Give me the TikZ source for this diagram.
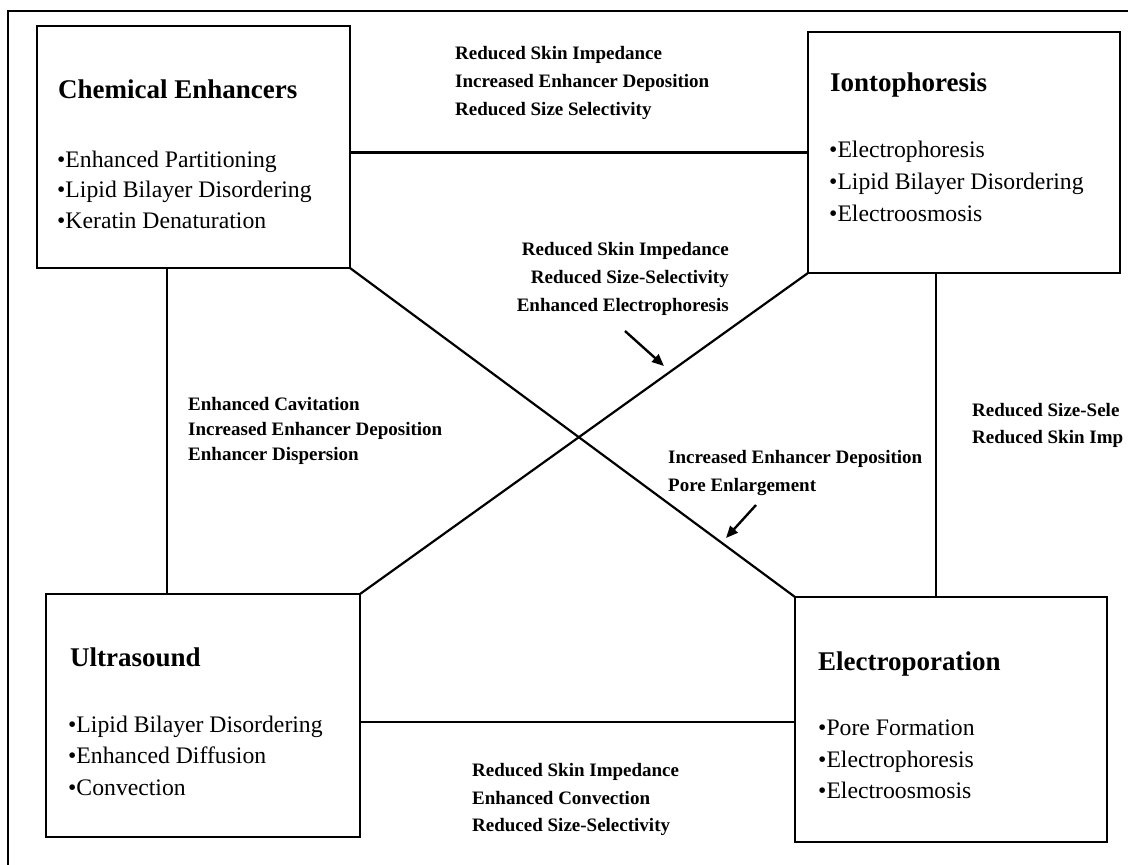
\documentclass[tikz,border=0pt]{standalone}
\usepackage{fontspec}
\setmainfont{Liberation Serif}
\usetikzlibrary{arrows.meta}
\begin{document}
\begin{tikzpicture}[x=1pt,y=-1pt,
  box/.style={draw, rectangle, line width=2.6pt, inner sep=0pt, outer sep=0pt},
  link/.style={line width=2.2pt},
  pointer/.style={line width=2.4pt, -{Triangle[length=12pt,width=10pt]}},
  boxtitle/.style={anchor=base west, inner sep=0pt, font=\fontsize{27}{32}\selectfont\bfseries},
  item/.style={anchor=base west, inner sep=0pt, font=\fontsize{23.7}{30}\selectfont},
  lbl/.style={anchor=base west, inner sep=0pt, font=\fontsize{19}{24}\selectfont\bfseries},
]
\useasboundingbox (0,0) rectangle (1128,865);
\clip (0,0) rectangle (1128,865);
\fill[white] (0,0) rectangle (1128,865);
% outer frame (only top and left edges visible)
\draw[line width=2pt] (8,880) -- (8,11) -- (1140,11);

% boxes
\node[box, minimum width=313pt, minimum height=242pt] (ce) at (193.5,147) {};
\node[box, minimum width=312pt, minimum height=241pt] (io) at (964,152.5) {};
\node[box, minimum width=314pt, minimum height=243pt] (us) at (203,715.5) {};
\node[box, minimum width=312pt, minimum height=245pt] (ep) at (951,719.5) {};

% box contents
\node[boxtitle] (ceT) at (58,98) {Chemical Enhancers};
\node[item] (ce1) at (57,167) {•Enhanced Partitioning};
\node[item] (ce2) at (57,197) {•Lipid Bilayer Disordering};
\node[item] (ce3) at (57,228) {•Keratin Denaturation};

\node[boxtitle] (ioT) at (830,91) {Iontophoresis};
\node[item] (io1) at (829,157) {•Electrophoresis};
\node[item] (io2) at (829,189) {•Lipid Bilayer Disordering};
\node[item] (io3) at (829,221) {•Electroosmosis};

\node[boxtitle] (usT) at (70,666) {Ultrasound};
\node[item] (us1) at (68,732) {•Lipid Bilayer Disordering};
\node[item] (us2) at (68,763) {•Enhanced Diffusion};
\node[item] (us3) at (68,795) {•Convection};

\node[boxtitle] (epT) at (818,670) {Electroporation};
\node[item] (ep1) at (818,735) {•Pore Formation};
\node[item] (ep2) at (818,767) {•Electrophoresis};
\node[item] (ep3) at (818,798) {•Electroosmosis};

% connectors
\draw[link] (ce.east |- io.west) -- (io.west);
\draw[link] ([xshift=-26.5pt]ce.south) -- ([xshift=-26.5pt]ce.south |- us.north);
\draw[link] ([xshift=-28pt]io.south) -- ([xshift=-28pt]io.south |- ep.north);
\draw[link] ([yshift=-2.5pt]ep.west -| us.east) -- ([yshift=-2.5pt]ep.west);
\draw[link] (ce.south east) -- (ep.north west);
\draw[link] (us.north east) -- (io.south west);

% pointers
\coordinate (p1s) at (625,331);
\coordinate (p1e) at (664,366);
\draw[pointer] (p1s) -- (p1e);
\coordinate (p2s) at (756,505);
\coordinate (p2e) at (726,538);
\draw[pointer] (p2s) -- (p2e);

% labels
\node[lbl] (t1) at (455,59) {Reduced Skin Impedance};
\node[lbl] (t2) at (455,87) {Increased Enhancer Deposition};
\node[lbl] (t3) at (455,115) {Reduced Size Selectivity};

\node[lbl, anchor=base east] (c1) at (729,255) {Reduced Skin Impedance};
\node[lbl, anchor=base east] (c2) at (729,283) {Reduced Size-Selectivity};
\node[lbl, anchor=base east] (c3) at (729,311) {Enhanced Electrophoresis};

\node[lbl] (l1) at (188,410) {Enhanced Cavitation};
\node[lbl] (l2) at (188,435) {Increased Enhancer Deposition};
\node[lbl] (l3) at (188,460) {Enhancer Dispersion};

\node[lbl] (m1) at (668,463) {Increased Enhancer Deposition};
\node[lbl] (m2) at (668,491) {Pore Enlargement};

\node[lbl] (r1) at (972,416) {Reduced Size-Sele};
\node[lbl] (r2) at (972,443) {Reduced Skin Imp};

\node[lbl] (b1) at (472,776) {Reduced Skin Impedance};
\node[lbl] (b2) at (472,804) {Enhanced Convection};
\node[lbl] (b3) at (472,831) {Reduced Size-Selectivity};
\end{tikzpicture}
\end{document}
